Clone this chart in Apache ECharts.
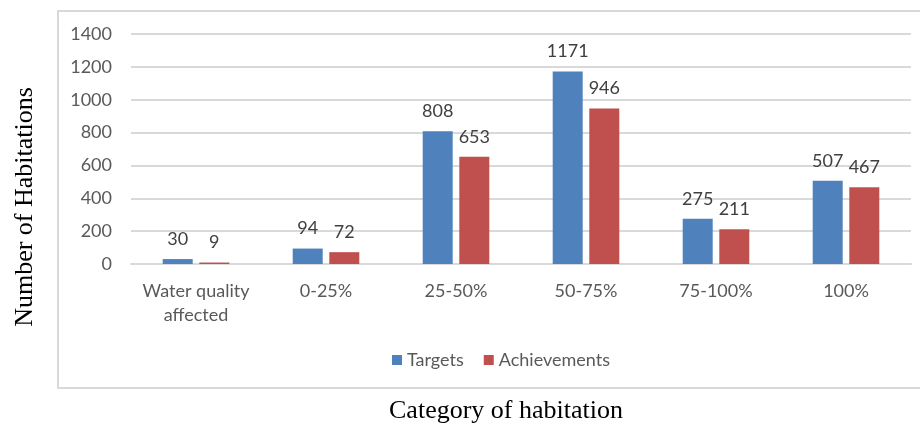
<!DOCTYPE html>
<html>
<head>
<meta charset="utf-8">
<script src="https://cdn.jsdelivr.net/npm/echarts@6/dist/echarts.min.js"></script>
<style>
  html, body { margin: 0; padding: 0; background: #fff; }
  #chart { width: 920px; height: 423px; }
</style>
</head>
<body>
<div id="chart"></div>
<script>
// categories and values
const categories = ['Water quality\naffected', '0-25%', '25-50%', '50-75%', '75-100%', '100%']
const targets = [30, 94, 808, 1171, 275, 507]
const achievements = [9, 72, 653, 946, 211, 467]

const labelFont = 'Lato, "Open Sans", sans-serif'

var myChart = echarts.init(document.getElementById('chart'))

const option = {
  animation: false,
  grid: { left: 131, right: 9, top: 34, bottom: 159 },
  legend: {
    data: ['Targets', 'Achievements'],
    left: 387,
    top: 346,
    itemWidth: 10,
    itemHeight: 10,
    itemGap: 20,
    icon: 'rect',
    textStyle: { fontFamily: labelFont, fontSize: 18, color: '#595959' }
  },
  graphic: [
    {
      type: 'rect',
      shape: { x: 58, y: 11, width: 900, height: 377 },
      style: { fill: 'none', stroke: '#d9d9d9', lineWidth: 2 },
      silent: true
    },
    {
      type: 'text',
      x: 25, y: 207,
      rotation: Math.PI / 2,
      style: {
        text: 'Number of Habitations',
        font: '26px "Liberation Serif", "Times New Roman", serif',
        fill: '#000',
        align: 'center',
        verticalAlign: 'middle'
      }
    },
    {
      type: 'text',
      x: 506, y: 411,
      style: {
        text: 'Category of habitation',
        font: '26px "Liberation Serif", "Times New Roman", serif',
        fill: '#000',
        align: 'center',
        verticalAlign: 'middle'
      }
    }
  ],
  xAxis: {
    type: 'category',
    data: categories,
    axisTick: { show: false },
    axisLine: { show: true, lineStyle: { color: '#d9d9d9', width: 2 } },
    axisLabel: {
      interval: 0,
      margin: 15,
      lineHeight: 24,
      fontFamily: labelFont,
      fontSize: 18,
      color: '#595959'
    }
  },
  yAxis: {
    type: 'value',
    min: 0,
    max: 1400,
    interval: 200,
    axisLine: { show: false },
    axisTick: { show: false },
    axisLabel: {
      margin: 19,
      formatter: v => String(v),
      fontFamily: labelFont,
      fontSize: 18,
      color: '#595959'
    },
    splitLine: { lineStyle: { color: '#d9d9d9', width: 2 } }
  },
  series: [
    {
      name: 'Targets',
      type: 'bar',
      data: targets,
      barWidth: 30,
      barGap: '22%',
      itemStyle: { color: '#4f81bd' },
      label: {
        show: true,
        position: 'top',
        distance: 11,
        fontFamily: labelFont,
        fontSize: 18,
        color: '#404040'
      }
    },
    {
      name: 'Achievements',
      type: 'bar',
      data: achievements,
      barWidth: 30,
      itemStyle: { color: '#c0504d' },
      label: {
        show: true,
        position: 'top',
        distance: 11,
        fontFamily: labelFont,
        fontSize: 18,
        color: '#404040'
      }
    }
  ]
}

myChart.setOption(option)
</script>
</body>
</html>
